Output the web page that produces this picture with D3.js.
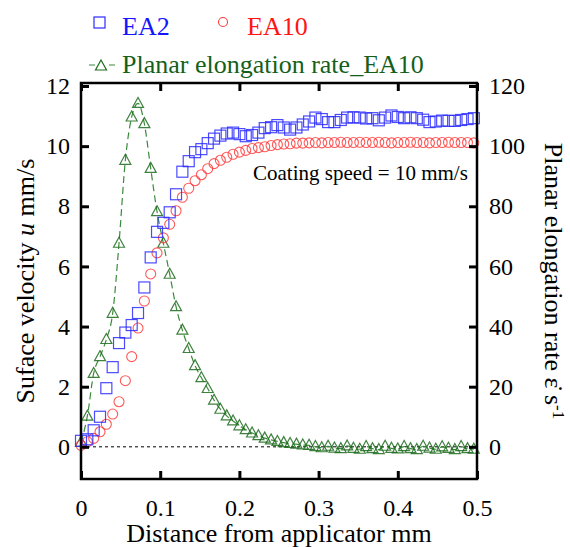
<!DOCTYPE html>
<html>
<head>
<meta charset="utf-8">
<script src="https://cdn.jsdelivr.net/npm/d3@7"></script>
<style>
  body { margin: 0; background: #fff; }
  svg { display: block; }
</style>
</head>
<body>
<svg id="chart" width="570" height="547"></svg>
<script>
// Distance from applicator (mm), shared by all three series
const distance = [0, 0.008, 0.016, 0.024, 0.032, 0.04, 0.048, 0.056, 0.064, 0.072,
  0.08, 0.088, 0.096, 0.104, 0.112, 0.12, 0.128, 0.136, 0.144, 0.152,
  0.16, 0.168, 0.176, 0.184, 0.192, 0.2, 0.208, 0.216, 0.224, 0.232,
  0.24, 0.248, 0.256, 0.264, 0.272, 0.28, 0.288, 0.296, 0.304, 0.312,
  0.32, 0.328, 0.336, 0.344, 0.352, 0.36, 0.368, 0.376, 0.384, 0.392,
  0.4, 0.408, 0.416, 0.424, 0.432, 0.44, 0.448, 0.456, 0.464, 0.472,
  0.48, 0.488, 0.496];

// Surface velocity u (mm/s)
const velocityEA2 = [0.2, 0.25, 0.55, 1.0, 1.95, 2.65, 3.45, 3.8, 4.05, 4.45,
  5.3, 6.3, 7.15, 7.45, 7.8, 8.4, 9.15, 9.5, 9.8, 9.9,
  10.1, 10.25, 10.35, 10.42, 10.45, 10.4, 10.33, 10.37, 10.45, 10.6,
  10.63, 10.7, 10.62, 10.55, 10.62, 10.72, 10.82, 10.95, 10.9, 10.8,
  10.8, 10.87, 10.95, 10.96, 10.95, 10.92, 10.93, 10.86, 10.95, 11.02,
  10.97, 10.93, 10.96, 10.93, 10.88, 10.8, 10.82, 10.85, 10.84, 10.84,
  10.87, 10.9, 10.93];

const velocityEA10 = [0.05, 0.17, 0.28, 0.5, 0.75, 1.09, 1.5, 2.2, 3.0, 3.95,
  4.85, 5.75, 6.45, 6.95, 7.4, 7.85, 8.3, 8.6, 8.85, 9.05,
  9.25, 9.42, 9.53, 9.63, 9.73, 9.8, 9.86, 9.92, 9.95, 9.98,
  10.02, 10.05, 10.07, 10.08, 10.1, 10.1, 10.11, 10.12, 10.11, 10.12,
  10.12, 10.13, 10.12, 10.12, 10.13, 10.12, 10.12, 10.13, 10.12, 10.11,
  10.12, 10.12, 10.13, 10.12, 10.12, 10.11, 10.12, 10.12, 10.13, 10.12,
  10.12, 10.12, 10.11];

// Planar elongation rate (1/s), right axis
const elongationEA10 = [1.5, 10.2, 24.4, 30, 35.7, 44.4, 67.7, 95.3, 109.7, 114.2,
  107.5, 92.6, 78.2, 67.7, 57.4, 46.6, 38.8, 32.7, 27, 23,
  19.4, 15.5, 12.5, 10.3, 8.6, 7.0, 5.7, 4.6, 3.7, 2.9,
  2.3, 1.8, 1.4, 1.1, 0.9, 0.6, 0.5, 0.1, -0.3, 0.2,
  -0.4, -0.6, 0.3, -0.5, -0.8, 0.1, -0.6, -0.9, 0.2, -0.5,
  -0.7, 0.1, -0.6, -0.9, 0.2, -0.4, -0.8, 0.0, -0.5, -0.9,
  0.1, -0.6, -0.8];

const xTicks = [0, 0.1, 0.2, 0.3, 0.4, 0.5];
const xTickLabels = ["0", "0.1", "0.2", "0.3", "0.4", "0.5"];
const leftTicks = [0, 2, 4, 6, 8, 10, 12];
const rightTicks = [0, 20, 40, 60, 80, 100, 120];

const colors = {
  blue: "#2a2aff", blueText: "#1414ff",
  red: "#ff3d3d", redText: "#ff1414",
  green: "#1d6b1d", greenLine: "#3b8a3b", greenText: "#14601a"
};

const SERIF = "'Liberation Serif', 'Times New Roman', Times, 'DejaVu Serif', serif";

const svg = d3.select("#chart").attr("font-family", SERIF);
const plot = { left: 81, right: 477, top: 83, bottom: 479 };

const x = d3.scaleLinear().domain([0, 0.5]).range([plot.left, plot.right]);
const yL = d3.scaleLinear().domain([-1.07, 12.1]).range([plot.bottom, plot.top]);
const yR = d3.scaleLinear().domain([-10.7, 121]).range([plot.bottom, plot.top]);

// helper: serif text
function addText(parent, size) {
  return parent.append("text")
    .style("font-family", SERIF)
    .style("font-size", size + "px");
}

// zero reference line
svg.append("line")
  .attr("x1", x(0)).attr("x2", x(0.5))
  .attr("y1", yL(0)).attr("y2", yL(0))
  .attr("stroke", "#000").attr("stroke-width", 1)
  .attr("stroke-dasharray", "3,3");

// elongation rate dashed line
const rateLine = d3.line()
  .x((d, i) => x(distance[i]))
  .y(d => yR(d))
  .curve(d3.curveMonotoneX);
svg.append("path")
  .datum(elongationEA10)
  .attr("d", rateLine)
  .attr("fill", "none")
  .attr("stroke", colors.greenLine)
  .attr("stroke-width", 1.2)
  .attr("stroke-dasharray", "7,4");

// triangle marker path centred on the point
const triPath = (w, h) => `M0,${-h * 0.6}L${w / 2},${h * 0.4}L${-w / 2},${h * 0.4}Z`;

svg.append("g").selectAll("path")
  .data(elongationEA10)
  .join("path")
  .attr("transform", (d, i) => `translate(${x(distance[i])},${yR(d)})`)
  .attr("d", triPath(11, 10))
  .attr("fill", "none")
  .attr("stroke", colors.green)
  .attr("stroke-width", 1.2)
  .attr("stroke-opacity", 0.85);

// EA10 circles
svg.append("g").selectAll("circle")
  .data(velocityEA10)
  .join("circle")
  .attr("cx", (d, i) => x(distance[i]))
  .attr("cy", d => yL(d))
  .attr("r", 5)
  .attr("fill", "none")
  .attr("stroke", colors.red)
  .attr("stroke-width", 1.1)
  .attr("stroke-opacity", 0.85);

// EA2 squares
const sq = 11;
svg.append("g").selectAll("rect")
  .data(velocityEA2)
  .join("rect")
  .attr("x", (d, i) => x(distance[i]) - sq / 2)
  .attr("y", d => yL(d) - sq / 2)
  .attr("width", sq).attr("height", sq)
  .attr("fill", "none")
  .attr("stroke", colors.blue)
  .attr("stroke-width", 1.2)
  .attr("stroke-opacity", 0.85);

// axes with inward ticks
const axB = svg.append("g").attr("transform", `translate(0,${plot.bottom})`)
  .call(d3.axisBottom(x).tickValues(xTicks).tickFormat((d, i) => xTickLabels[i])
    .tickSize(-8).tickPadding(21));
const axT = svg.append("g").attr("transform", `translate(0,${plot.top})`)
  .call(d3.axisTop(x).tickValues(xTicks).tickFormat("").tickSize(-8));
const axL = svg.append("g").attr("transform", `translate(${plot.left},0)`)
  .call(d3.axisLeft(yL).tickValues(leftTicks).tickFormat(d3.format("d"))
    .tickSize(-8).tickPadding(11));
const axR = svg.append("g").attr("transform", `translate(${plot.right},0)`)
  .call(d3.axisRight(yR).tickValues(rightTicks).tickFormat(d3.format("d"))
    .tickSize(-8).tickPadding(12));

[axB, axT, axL, axR].forEach(g => {
  g.attr("font-family", SERIF).attr("font-size", 24);
  g.select(".domain").remove();
  g.selectAll(".tick line").attr("stroke", "#000").attr("stroke-width", 3);
  g.selectAll(".tick text")
    .attr("fill", "#000")
    .style("font-family", SERIF)
    .style("font-size", "24px");
});
axB.selectAll(".tick text").attr("dy", "0").attr("y", 516 - plot.bottom);

// frame
svg.append("rect")
  .attr("x", plot.left).attr("y", plot.top)
  .attr("width", plot.right - plot.left).attr("height", plot.bottom - plot.top)
  .attr("fill", "none").attr("stroke", "#000").attr("stroke-width", 2.5);

// axis titles
addText(svg, 26)
  .attr("x", (plot.left + plot.right) / 2).attr("y", 542)
  .attr("text-anchor", "middle")
  .text("Distance from applicator mm");

const leftTitle = addText(svg, 26)
  .attr("transform", `translate(34,${(plot.top + plot.bottom) / 2}) rotate(-90)`)
  .attr("text-anchor", "middle");
leftTitle.append("tspan").text("Suface velocity ");
leftTitle.append("tspan").style("font-style", "italic").text("u");
leftTitle.append("tspan").text(" mm/s");

const rightTitle = addText(svg, 26)
  .attr("transform", `translate(545,${(plot.top + plot.bottom) / 2}) rotate(90)`)
  .attr("text-anchor", "middle");
rightTitle.append("tspan").text("Planar elongation rate \u03B5\u0307 s");
rightTitle.append("tspan").attr("dy", "-0.45em").style("font-size", "17px").text("-1");

// annotation
addText(svg, 21)
  .attr("x", 253).attr("y", 180)
  .text("Coating speed = 10 mm/s");

// legend
const legend = svg.append("g");
legend.append("rect")
  .attr("x", 94).attr("y", 17).attr("width", 11).attr("height", 11)
  .attr("fill", "none").attr("stroke", colors.blue).attr("stroke-width", 1.2);
addText(legend, 26).attr("x", 122).attr("y", 35)
  .attr("fill", colors.blueText).text("EA2");
legend.append("circle")
  .attr("cx", 223).attr("cy", 22).attr("r", 4.5)
  .attr("fill", "none").attr("stroke", colors.red).attr("stroke-width", 1.1);
addText(legend, 26).attr("x", 247).attr("y", 35)
  .attr("fill", colors.redText).text("EA10");
legend.append("line")
  .attr("x1", 89).attr("x2", 115).attr("y1", 65).attr("y2", 65)
  .attr("stroke", colors.greenLine).attr("stroke-width", 1.2)
  .attr("stroke-dasharray", "6,14");
legend.append("path")
  .attr("transform", "translate(101,66)")
  .attr("d", triPath(11, 10))
  .attr("fill", "none").attr("stroke", colors.green).attr("stroke-width", 1.2);
addText(legend, 26).attr("x", 122).attr("y", 73)
  .attr("fill", colors.greenText)
  .text("Planar elongation rate_EA10");
</script>
</body>
</html>
